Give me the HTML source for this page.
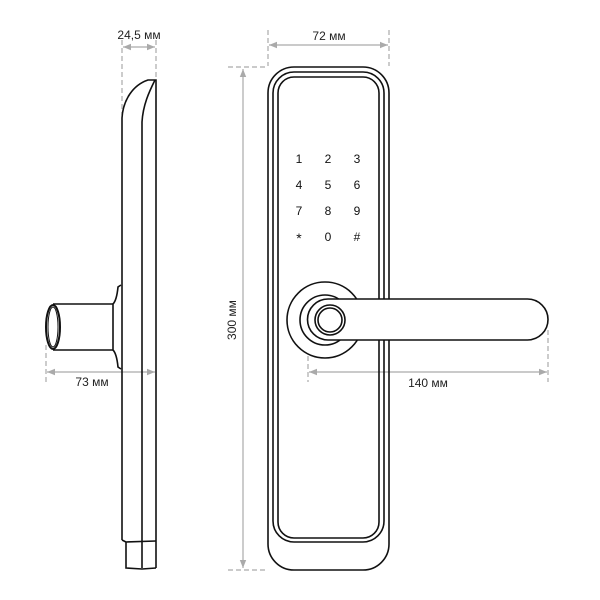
<!DOCTYPE html>
<html><head><meta charset="utf-8"><style>html,body{margin:0;padding:0;background:#fff}svg{display:block}</style></head><body>
<svg width="600" height="600" viewBox="0 0 600 600" xmlns="http://www.w3.org/2000/svg" font-family="Liberation Sans, Arial, sans-serif">
<defs>
<marker id="a" viewBox="0 0 10 10" refX="10" refY="5" markerWidth="8" markerHeight="8" orient="auto-start-reverse" markerUnits="userSpaceOnUse"><path d="M0,1 L10,5 L0,9 z" fill="#aaa"/></marker>
</defs>
<g stroke="#aaa" stroke-width="1.2" fill="none">
<line x1="122" y1="40" x2="122" y2="115" stroke-dasharray="5,3"/>
<line x1="156" y1="40" x2="156" y2="78" stroke-dasharray="5,3"/>
<line x1="123" y1="47" x2="155" y2="47" marker-start="url(#a)" marker-end="url(#a)"/>
<line x1="268" y1="30" x2="268" y2="66" stroke-dasharray="5,3"/>
<line x1="389" y1="30" x2="389" y2="66" stroke-dasharray="5,3"/>
<line x1="269" y1="45" x2="388" y2="45" marker-start="url(#a)" marker-end="url(#a)"/>
<line x1="228" y1="67" x2="268" y2="67" stroke-dasharray="5,3"/>
<line x1="228" y1="570" x2="268" y2="570" stroke-dasharray="5,3"/>
<line x1="243" y1="69" x2="243" y2="568" marker-start="url(#a)" marker-end="url(#a)"/>
<line x1="46" y1="345" x2="46" y2="382" stroke-dasharray="5,3"/>
<line x1="47" y1="372" x2="155" y2="372" marker-start="url(#a)" marker-end="url(#a)"/>
<line x1="308" y1="340" x2="308" y2="382" stroke-dasharray="5,3"/>
<line x1="548" y1="330" x2="548" y2="382" stroke-dasharray="5,3"/>
<line x1="309" y1="372" x2="547" y2="372" marker-start="url(#a)" marker-end="url(#a)"/>
</g>
<g font-size="12" fill="#222" text-anchor="middle">
<text x="139" y="39">24,5 мм</text>
<text x="329" y="40">72 мм</text>
<text x="92" y="386">73 мм</text>
<text x="428" y="387">140 мм</text>
<text x="236" y="320" transform="rotate(-90 236 320)">300 мм</text>
</g>
<g stroke="#111" stroke-width="1.6" fill="none">
<path d="M122,540 L122,118 C123,100 133,85 148,80 L156,80 L156,568"/>
<path d="M155,80 C149,92 143,105 142,122 L142,568"/>
<path d="M122,540 L126,542 L126,568 L142,569 L156,568 M126,542 L156,541"/>
<path d="M113,304 L53,304 M113,350 L53,350"/>
<ellipse cx="53" cy="327" rx="7" ry="22" stroke-width="2"/>
<ellipse cx="53" cy="327" rx="5" ry="20" stroke-width="1"/>
<path d="M121,285 L118,287 C117,297 115,302 113,304 L113,350 C115,352 117,357 118,367 L121,369"/>
</g>
<g stroke="#111" stroke-width="1.6" fill="none">
<rect x="268" y="67" width="121" height="503" rx="26"/>
<rect x="273" y="72" width="111" height="470" rx="21"/>
<rect x="278" y="77" width="101" height="461" rx="16"/>
<circle cx="325" cy="320" r="38" fill="#fff"/>
<circle cx="325" cy="320" r="25"/>
<path d="M328,299 L527.5,299 A20.5,20.5 0 0 1 527.5,340 L328,340 A20.5,20.5 0 0 1 328,299 Z" fill="#fff"/>
<circle cx="330" cy="320" r="15"/>
<circle cx="330" cy="320" r="12"/>
</g>
<g font-size="12" fill="#111" text-anchor="middle">
<text x="299" y="163">1</text><text x="328" y="163">2</text><text x="357" y="163">3</text>
<text x="299" y="189">4</text><text x="328" y="189">5</text><text x="357" y="189">6</text>
<text x="299" y="215">7</text><text x="328" y="215">8</text><text x="357" y="215">9</text>
<text x="299" y="243" font-size="14">*</text><text x="328" y="241">0</text><text x="357" y="241">#</text>
</g>
</svg>
</body></html>
